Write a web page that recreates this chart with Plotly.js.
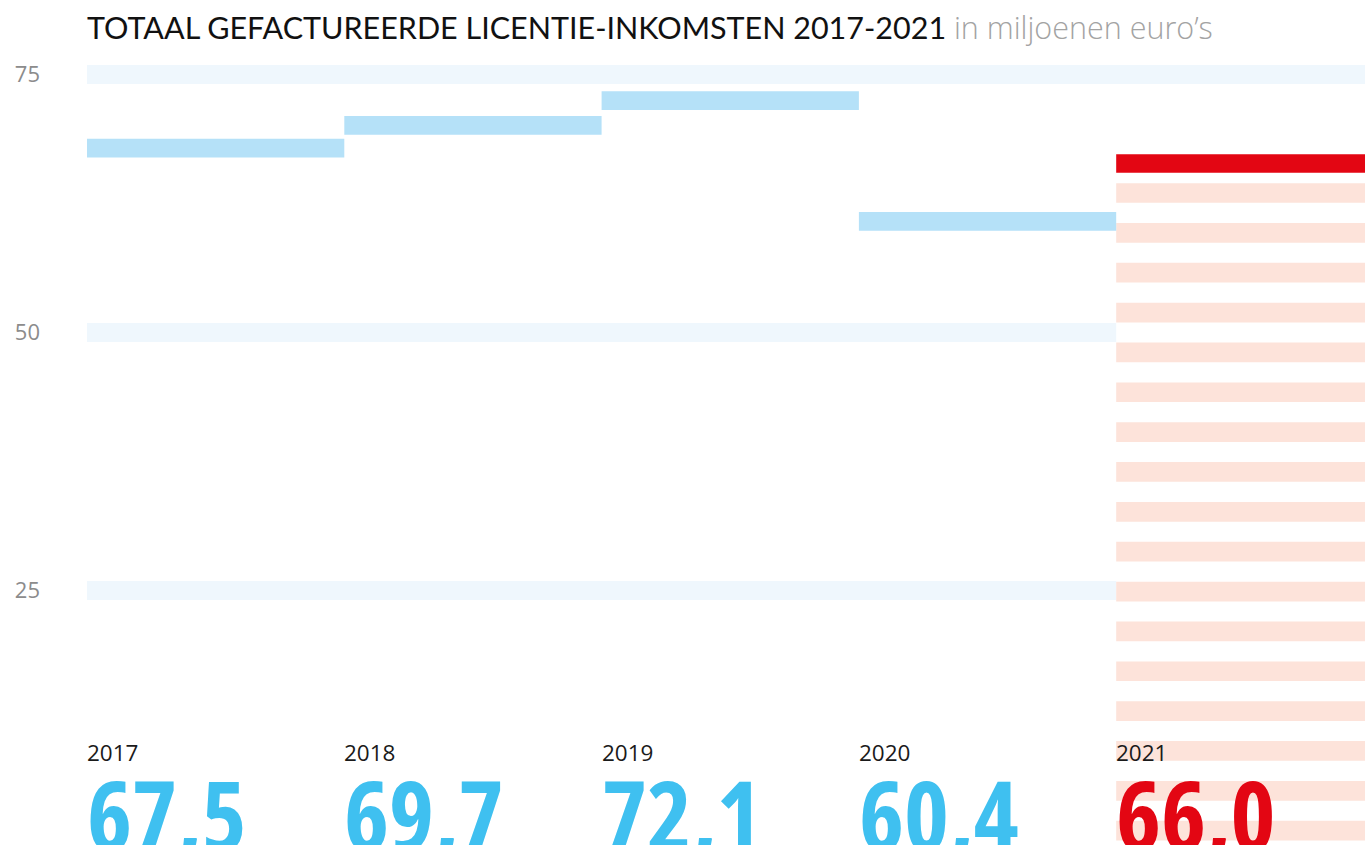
<!DOCTYPE html>
<html>
<head>
<meta charset="utf-8">
<script src="https://cdn.plot.ly/plotly-3.0.1.min.js"></script>
<style>
  html, body { margin: 0; padding: 0; background: #ffffff; }
  #chart { width: 1365px; height: 845px; }
</style>
</head>
<body>
<div id="chart"></div>
<script>
// ---- data ----
const years = ['2017', '2018', '2019', '2020', '2021'];
const values = [67.5, 69.7, 72.1, 60.4, 66.0];
const valueLabels = ['67,5', '69,7', '72,1', '60,4', '66,0'];
const tickValues = [25, 50, 75];
const tickLabels = ['25', '50', '75'];
const titleMain = 'TOTAAL GEFACTUREERDE LICENTIE-INKOMSTEN 2017-2021';
const titleUnit = 'in miljoenen euro’s';

// ---- style ----
const BLUE_BAR = '#b5e1f8';
const RED = '#e30613';
const BLUE_TEXT = '#3fc0f0';
const BAND = '#eff7fd';
const STRIPE = '#fde3da';
const barBelow = 0.55, barAbove = 1.26;   // bar thickness around the value (axis units)

const idx = years.map((_, i) => i);
const colors = years.map((_, i) => i === years.length - 1 ? RED : BLUE_BAR);

const barTrace = {
  type: 'bar',
  x: idx,
  base: values.map(v => v - barBelow),
  y: values.map(() => barBelow + barAbove),
  width: 1,
  marker: { color: colors, line: { width: 0 } },
  hoverinfo: 'skip',
  showlegend: false
};

// decorative stripes in the highlighted (last) column
const last = years.length - 1;
const shapes = [{
  type: 'rect', xref: 'x', yref: 'y', layer: 'between',
  x0: last - 0.5, x1: last + 0.7, y0: -5, y1: 72,
  fillcolor: '#ffffff', line: { width: 0 }
}];
const stripeStep = 3.862, stripeHalf = 0.955;
for (let c = values[last] - 2.5; c > 0; c -= stripeStep) {
  shapes.push({
    type: 'rect', xref: 'x', yref: 'y', layer: 'between',
    x0: last - 0.5, x1: last + 0.7, y0: c - stripeHalf, y1: c + stripeHalf,
    fillcolor: STRIPE, line: { width: 0 }
  });
}

const annotations = [];
years.forEach((yr, i) => {
  annotations.push({
    xref: 'x', yref: 'paper', x: i - 0.5, y: 1 - 752 / 845, xshift: -2,
    xanchor: 'left', yanchor: 'middle', showarrow: false,
    text: yr,
    font: { family: 'Open Sans', size: 22.5, color: '#1a1a1a' }
  });
  annotations.push({
    xref: 'x', yref: 'paper', x: i - 0.5, y: 1 - 813 / 845, xshift: -2,
    xanchor: 'left', yanchor: 'middle', showarrow: false,
    text: '<span style="font-stretch:80%">' + valueLabels[i] + '</span>',
    font: { family: 'Open Sans', size: 96, weight: 700,
            color: i === last ? RED : BLUE_TEXT }
  });
});

const layout = {
  width: 1365, height: 845,
  margin: { l: 87, r: 0, t: 0, b: 0 },
  paper_bgcolor: '#ffffff', plot_bgcolor: '#ffffff',
  hovermode: false,
  barmode: 'overlay',
  title: {
    text: titleMain + ' <span style="color:#a3a3a3;font-family:\'Open Sans\';font-weight:300">' + titleUnit + '</span>',
    x: 87 / 1365, xanchor: 'left', xref: 'container',
    y: 1 - 28 / 845, yanchor: 'middle', yref: 'container',
    font: { family: 'Lato', size: 30.5, weight: 400, color: '#111111' }
  },
  xaxis: { range: [-0.5, 4.467], visible: false, fixedrange: true },
  yaxis: {
    range: [0.32, 82.2],
    tickvals: tickValues, ticktext: tickLabels,
    showgrid: true, gridcolor: BAND, gridwidth: 19,
    zeroline: false, showline: false, ticks: '',
    ticklabelstandoff: 46,
    tickfont: { family: 'Open Sans', size: 22, color: '#8c8c8c' },
    fixedrange: true
  },
  shapes: shapes,
  annotations: annotations
};

Plotly.newPlot('chart', [barTrace], layout, { displayModeBar: false, staticPlot: true });
</script>
</body>
</html>
